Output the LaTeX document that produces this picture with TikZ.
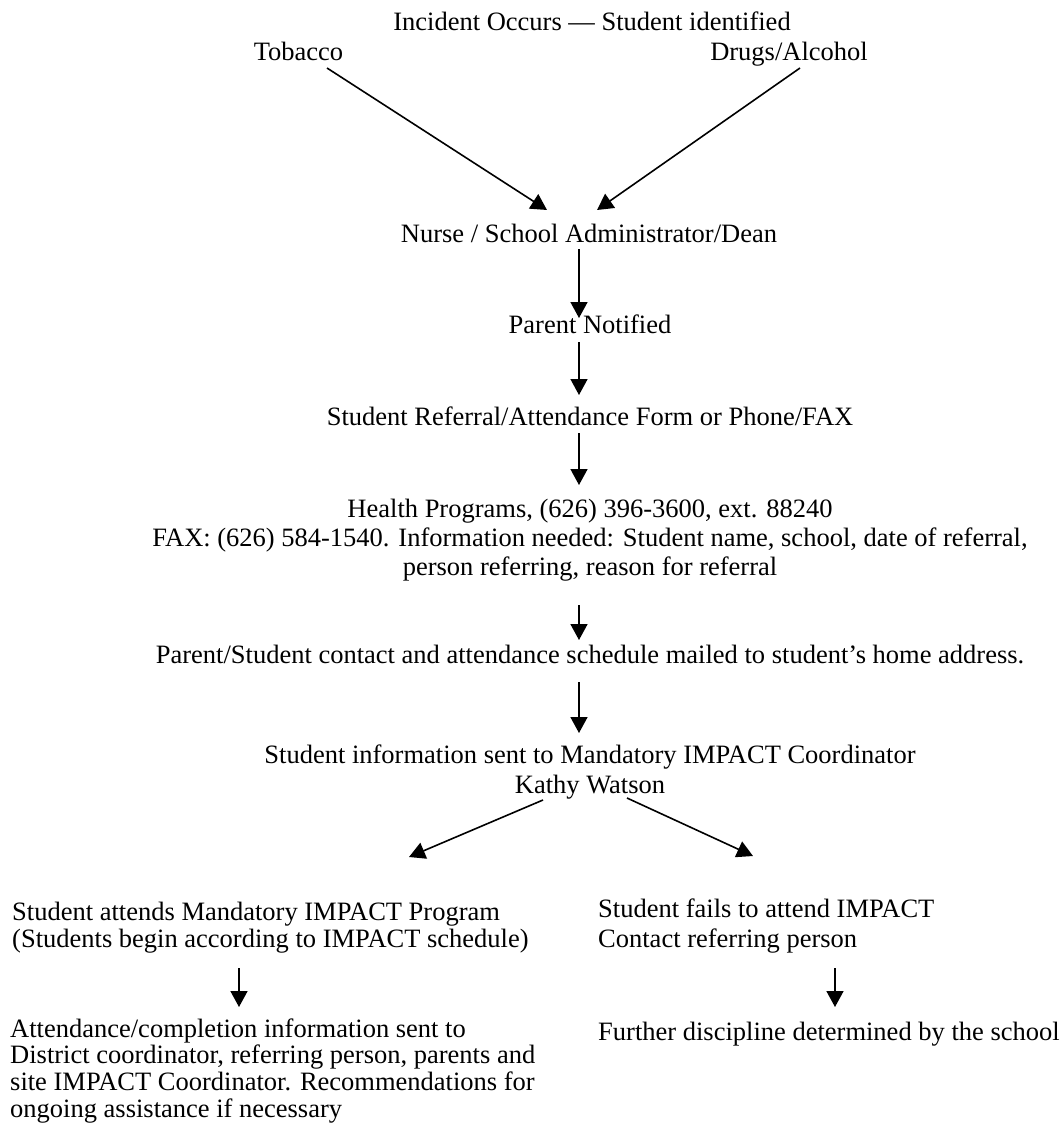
\documentclass[tikz,border=0pt]{standalone}
\usepackage{fontspec}
\setmainfont{Liberation Serif}
\usetikzlibrary{arrows.meta,calc}
\newcommand\fsz[1]{\fontsize{26.5}{#1}\selectfont}
\renewcommand\arraystretch{1}
\begin{document}
\begin{tikzpicture}[x=1pt,y=-1pt,
  txt/.style={inner sep=0pt, font=\fsz{26.7}},
  arr/.style={line width=1.6pt, -{Triangle[length=16pt,width=17pt]}}]
\useasboundingbox (0,0) rectangle (1064,1138);
\coordinate (ax) at (579,0);
\node[txt, anchor=base] (inc) at (592,30) {Incident Occurs — Student identified};
\node[txt, anchor=base] (tob) at (298.5,60) {Tobacco};
\node[txt, anchor=base] (drug) at (789,60) {Drugs/Alcohol};
\node[txt, anchor=base] (nurse) at (589,242) {Nurse / School Administrator/Dean};
\node[txt, anchor=base] (parent) at (590,333) {Parent Notified};
\node[txt, anchor=base] (sref) at (590,425) {Student Referral/Attendance Form or Phone/FAX};
\node[txt, anchor=base] (health) at (590,517) {\fsz{29}\begin{tabular}[t]{@{}c@{}}Health Programs, (626) 396-3600, ext. 88240\\FAX: (626) 584-1540. Information needed: Student name, school, date of referral,\\person referring, reason for referral\end{tabular}};
\node[txt, anchor=base] (pc) at (590,663) {Parent/Student contact and attendance schedule mailed to student’s home address.};
\node[txt, anchor=base] (sinfo) at (590,763) {\fsz{30}\begin{tabular}[t]{@{}c@{}}Student information sent to Mandatory IMPACT Coordinator\\Kathy Watson\end{tabular}};
\node[txt, anchor=base west] (attend) at (12,920) {\fsz{27}\begin{tabular}[t]{@{}l@{}}Student attends Mandatory IMPACT Program\\(Students begin according to IMPACT schedule)\end{tabular}};
\node[txt, anchor=base west] (fails) at (598,917) {\fsz{30}\begin{tabular}[t]{@{}l@{}}Student fails to attend IMPACT\\Contact referring person\end{tabular}};
\node[txt, anchor=base west] (compl) at (10,1037) {\fsz{26.7}\begin{tabular}[t]{@{}l@{}}Attendance/completion information sent to\\District coordinator, referring person, parents and\\site IMPACT Coordinator. Recommendations for\\ongoing assistance if necessary\end{tabular}};
\node[txt, anchor=base west] (further) at (598,1040) {Further discipline determined by the school};

\draw[arr] ($(tob.base)+(28.5,8)$) -- ($(nurse.base)+(-42,-32)$);
\draw[arr] ($(drug.base)+(11,8)$) -- ($(nurse.base)+(8,-32)$);
\draw[arr] ($(nurse.base -| ax)+(0,7)$) -- ($(parent.base -| ax)+(0,-15)$);
\draw[arr] ($(parent.base -| ax)+(0,9)$) -- ($(sref.base -| ax)+(0,-30)$);
\draw[arr] ($(sref.base -| ax)+(0,8)$) -- ($(health.base -| ax)+(0,-32)$);
\draw[arr] ($(health.base -| ax)+(0,88)$) -- ($(pc.base -| ax)+(0,-23)$);
\draw[arr] ($(pc.base -| ax)+(0,19)$) -- ($(sinfo.base -| ax)+(0,-30)$);
\draw[arr] ($(sinfo.base)+(-47,37)$) -- ($(attend.base west)+(397,-63)$);
\draw[arr] ($(sinfo.base)+(37,35)$) -- ($(fails.base west)+(155,-61)$);
\draw[arr] ($(attend.base west)+(227,48)$) -- ($(compl.base west)+(229,-30)$);
\draw[arr] ($(fails.base west)+(237,51)$) -- ($(further.base west)+(237,-33)$);
\end{tikzpicture}
\end{document}
